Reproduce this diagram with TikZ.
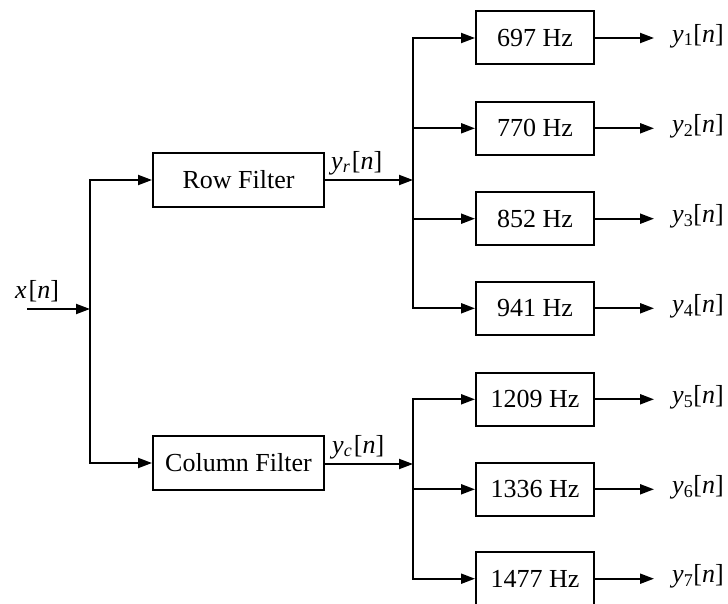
\documentclass[tikz,border=0pt]{standalone}
\usepackage{fontspec}
\setmainfont{Liberation Serif}
\usetikzlibrary{arrows.meta}
\newcommand\sigl[2]{\textit{#1}\kern0.3pt\raisebox{-0.3ex}{\fontsize{18}{18}\selectfont #2}\kern0.5pt[\textit{n}]}
\begin{document}
\begin{tikzpicture}[x=1pt,y=-1pt,
  font=\fontsize{26}{30}\selectfont,
  every path/.style={line width=2pt},
  >={Triangle[length=14pt,width=10pt]},
  blk/.style={draw,line width=2pt,minimum height=54pt,inner sep=0pt},
  fbox/.style={blk,minimum width=118pt,minimum height=53pt},
  lbl/.style={inner sep=0pt}]
\useasboundingbox (0,0) rectangle (728,604);
% input
\node[lbl] (xl) at (37,291) {\textit{x}\kern2pt[\textit{n}]};
\coordinate (xin) at (27,309);
\coordinate (jin) at (90,309);
\node[blk,minimum width=171pt] (row) at (238.5,180) {Row Filter};
\node[blk,minimum width=171pt] (col) at (238.5,463) {Column Filter};
\draw[->] (xin) -- (jin);
\draw[->] (jin) |- (row);
\draw[->] (jin) |- (col);
% junctions
\coordinate (jr) at (413,180);
\coordinate (jc) at (413,464);
\draw[->] (row.east) -- (jr);
\draw[->] (col.east |- jc) -- (jc);
\node[lbl,anchor=west] (yr) at (330,163) {\textit{y}\kern0.3pt\raisebox{-0.3ex}{\fontsize{18}{18}\selectfont\textit{r}}\kern2pt[\textit{n}]};
\node[lbl,anchor=west] (yc) at (331,447) {\textit{y}\kern0.3pt\raisebox{-0.3ex}{\fontsize{18}{18}\selectfont\textit{c}}\kern2pt[\textit{n}]};
% filter bank boxes
\node[fbox] (f1) at (535,38) {697 Hz};
\node[fbox] (f2) at (535,128.3) {770 Hz};
\node[fbox] (f3) at (535,218.7) {852 Hz};
\node[fbox] (f4) at (535,308.3) {941 Hz};
\node[fbox] (f5) at (535,399.3) {1209 Hz};
\node[fbox] (f6) at (535,489.3) {1336 Hz};
\node[fbox] (f7) at (535,578.7) {1477 Hz};
\foreach \i in {1,2,3,4}{\draw[->] (jr) |- (f\i);}
\foreach \i in {5,6,7}{\draw[->] (jc) |- (f\i);}
% outputs
\foreach \i in {1,...,7}{
  \coordinate (o\i) at ([xshift=59pt]f\i.east);
  \draw[->] (f\i.east) -- (o\i);
  \node[lbl,anchor=west] (y\i) at ([xshift=17pt,yshift=2pt]o\i) {\sigl{y}{\i}};
}
\end{tikzpicture}
\end{document}
